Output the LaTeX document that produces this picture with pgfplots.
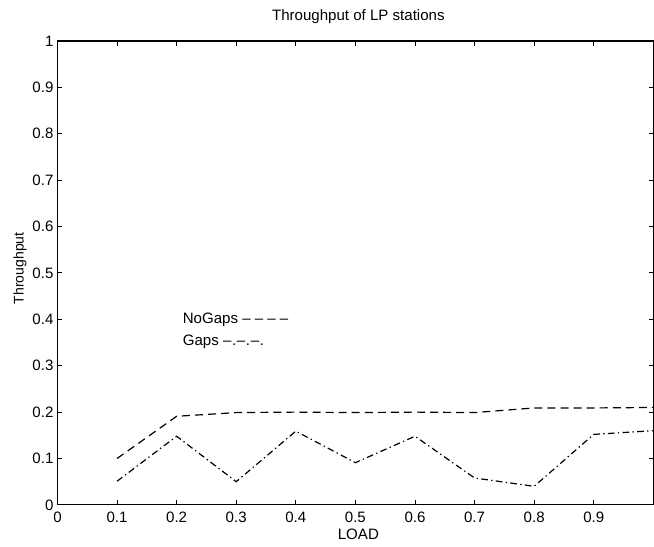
\documentclass[border=0pt]{standalone}
\usepackage{pgfplots}
\pgfplotsset{compat=1.18}
\usepackage{fontspec}
\setmainfont{Liberation Sans}
\begin{document}
\begin{tikzpicture}
\begin{axis}[
  scale only axis,
  width=447pt, height=348pt,
  xmin=0, xmax=1, ymin=0, ymax=1,
  xtick={0,0.1,0.2,0.3,0.4,0.5,0.6,0.7,0.8,0.9},
  ytick={0,0.1,0.2,0.3,0.4,0.5,0.6,0.7,0.8,0.9,1},
  xticklabels={0,0.1,0.2,0.3,0.4,0.5,0.6,0.7,0.8,0.9},
  yticklabels={0,0.1,0.2,0.3,0.4,0.5,0.6,0.7,0.8,0.9,1},
  /pgf/number format/assume math mode=true,
  tick align=inside,
  major tick length=3.5pt,
  tick pos=both,
  every tick label/.append style={font=\fontsize{11.3}{13}\selectfont},
  xticklabel style={yshift=-1.5pt},
  yticklabel style={xshift=0.5pt},
  axis line style={line width=0.9pt},
  every tick/.style={black, line width=0.7pt},
  every axis title shift=0pt,
  title={Throughput of LP stations},
  title style={font=\fontsize{11.3}{13}\selectfont, at={(axis description cs:0.505,1.052)}, anchor=center},
  xlabel={LOAD},
  ylabel={Throughput},
  xlabel style={font=\fontsize{11.3}{13}\selectfont, at={(axis description cs:0.505,0)}, anchor=center, yshift=-21.75pt},
  ylabel style={font=\fontsize{10.5}{12}\selectfont, at={(axis description cs:-0.063,0.51)}, anchor=center},
]
\addplot[black, line width=0.9pt, dash pattern=on 6pt off 3.8pt] coordinates {
(0.1,0.10) (0.2,0.191) (0.3,0.199) (0.4,0.20) (0.5,0.199) (0.6,0.20) (0.7,0.199) (0.8,0.209) (0.9,0.209) (1.0,0.21)};
\addplot[black, line width=0.9pt, dash pattern=on 5pt off 2.5pt on 1pt off 2.5pt] coordinates {
(0.1,0.051) (0.2,0.148) (0.3,0.05) (0.4,0.159) (0.5,0.091) (0.6,0.148) (0.7,0.058) (0.8,0.04) (0.9,0.152) (1.0,0.16)};
\node[anchor=west, inner sep=0pt, font=\fontsize{11.3}{13}\selectfont] at (axis cs:0.21,0.40) {NoGaps \textendash{} \textendash{} \textendash{} \textendash};
\node[anchor=west, inner sep=0pt, font=\fontsize{11.3}{13}\selectfont] at (axis cs:0.21,0.351) {Gaps \textendash\kern0.5pt.\kern0.5pt\textendash\kern0.5pt.\kern0.5pt\textendash\kern0.5pt.};
\end{axis}
\pgfresetboundingbox
\path[use as bounding box] ([shift={(-43.1pt,-31.5pt)}]current axis.south west) rectangle ([shift={(0.5pt,30.75pt)}]current axis.north east);
\end{tikzpicture}
\end{document}
